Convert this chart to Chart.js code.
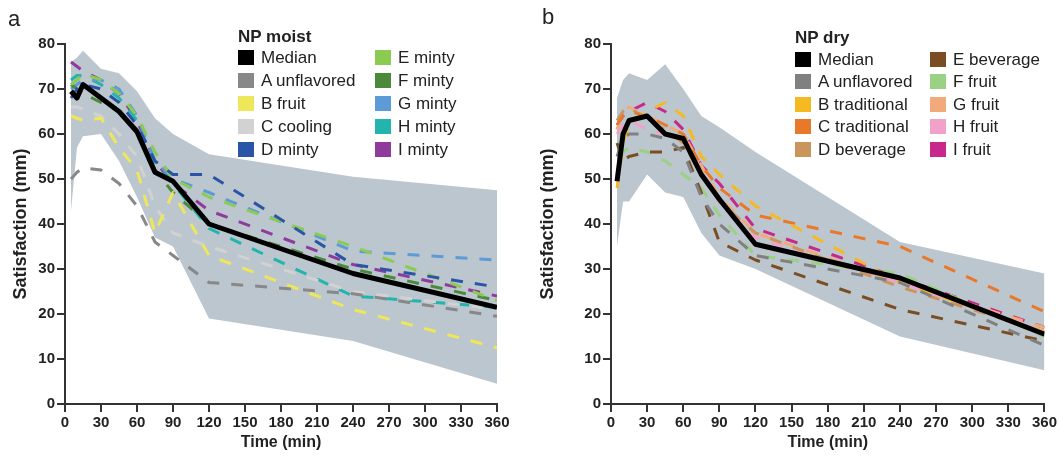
<!DOCTYPE html>
<html>
<head>
<meta charset="utf-8">
<script src="https://cdn.jsdelivr.net/npm/chart.js@4.4.1/dist/chart.umd.min.js"></script>
<style>
  body { margin: 0; background: #fff; font-family: "Liberation Sans", Arial, sans-serif; }
  #wrap { position: relative; width: 1059px; height: 456px; overflow: hidden; }
  .panel { position: absolute; top: 0; }
  .tag { position: absolute; font-size: 22px; color: #222; line-height: 1; }
  .lg { position: absolute; font-size: 17px; color: #222; line-height: 1; white-space: nowrap; }
  .lg.title { font-weight: bold; }
  .sw { position: absolute; width: 16px; height: 15px; }
</style>
</head>
<body>
<div id="wrap">
  <canvas id="moist" class="panel" width="530" height="456" style="left:0"></canvas>
  <canvas id="dry" class="panel" width="529" height="456" style="left:530px"></canvas>
  <div class="tag" style="left:8px;top:8px">a</div>
  <div class="tag" style="left:542px;top:6px">b</div>
</div>
<script>
// time points (min)
const times = [5, 10, 15, 30, 45, 60, 75, 90, 120, 240, 360];
const xTickValues = [0, 30, 60, 90, 120, 150, 180, 210, 240, 270, 300, 330, 360];
const yTickValues = [0, 10, 20, 30, 40, 50, 60, 70, 80];

// NP moist
const moistNames = ['A unflavored', 'B fruit', 'C cooling', 'D minty', 'E minty', 'F minty', 'G minty', 'H minty', 'I minty'];
const moistColors = ['#888888', '#eee75a', '#d2d2d2', '#2a55a6', '#8ccb52', '#4a8a3a', '#5c9bd6', '#22b5ad', '#8e3b9c'];
const moistMedian = [69.5, 68, 71, 68, 65, 60.5, 51.5, 49.5, 40, 29, 21.5];
const moistUpper = [76, 77, 78.5, 74.5, 73.5, 69.5, 63.5, 60, 55.5, 50.5, 47.5];
const moistLower = [43, 57, 59.5, 60, 54, 46, 37, 35, 19, 14, 4.5];
const moistA = [50, 51.5, 52.5, 52, 49, 44, 36, 33, 27, 24.5, 19.5];
const moistB = [64, 63.5, 63, 63.5, 57, 52, 38, 47, 33, 21, 12.5];
const moistC = [66, 66, 65.5, 64, 60, 55, 44, 38, 35, 25, 21];
const moistD = [68, 70, 71, 70, 67, 62, 54, 51, 51, 31, 26];
const moistE = [71, 72, 73.5, 72, 69, 64, 56, 50, 46, 35, 23];
const moistF = [71, 70, 69, 67, 65, 61, 52, 47, 40, 30, 23];
const moistG = [70, 71, 72, 72, 70, 64, 54, 50, 47, 34, 32];
const moistH = [72, 73, 73, 71, 68, 63, 53, 49, 39, 24, 21.5];
const moistI = [76, 75, 74, 72, 69, 63, 54, 49, 43, 31, 24];

// NP dry
const dryNames = ['A unflavored', 'B traditional', 'C traditional', 'D beverage', 'E beverage', 'F fruit', 'G fruit', 'H fruit', 'I fruit'];
const dryColors = ['#808080', '#f5b922', '#e8792a', '#c9955b', '#7a4e22', '#9ad183', '#f2aa7a', '#f2a2c9', '#c8288c'];
const dryMedian = [49.5, 60, 63, 64, 60, 59, 51, 45.5, 35.5, 28, 15.5];
const dryUpper = [68, 72, 73.5, 72, 75.5, 70, 64, 61.5, 56, 36, 29];
const dryLower = [35, 45, 45, 51, 47, 46, 38, 33, 30, 15, 7.5];
const dryA = [55, 59, 60, 60, 59, 56, 46, 40, 33, 27, 13];
const dryB = [48, 58, 62, 65, 67, 64, 55, 51, 44, 27, 16];
const dryC = [62, 64, 65, 64, 62, 60, 53, 48, 42, 35, 20.5];
const dryD = [63, 65, 66, 63, 61, 58, 51, 45, 38, 26, 16];
const dryE = [58, 54, 55, 56, 56, 57, 47, 36, 32, 21, 14];
const dryF = [56, 56, 57, 56, 54, 51, 48, 42, 33, 29, 15];
const dryG = [61, 65, 66, 64, 62, 60, 53, 46, 38, 27, 17];
const dryH = [60, 62, 63, 61, 60, 59, 52, 45, 37, 27, 16];
const dryI = [62, 64, 65, 67, 65, 61, 53, 49, 39, 28, 17];

const bandColor = '#bcc6ce';
const axisColor = '#333';
const textColor = '#222';

function pts(vals) {
    return vals.map((v, i) => ({ x: times[i], y: v }));
}

function makeChart(id, opts) {
    const datasets = [{
        label: 'Median', data: pts(opts.median), borderColor: '#000', borderWidth: 5, order: 0
    }];
    opts.series.forEach((s, i) => {
        datasets.push({
            label: opts.names[i], data: pts(s), borderColor: opts.colors[i],
            borderWidth: 3, borderDash: [12, 12], order: 1
        });
    });
    // shaded band between upper and lower
    datasets.push({ label: 'upper', data: pts(opts.upper), borderWidth: 0, backgroundColor: bandColor, fill: '+1', order: 2 });
    datasets.push({ label: 'lower', data: pts(opts.lower), borderWidth: 0, fill: false, order: 2 });

    return new Chart(document.getElementById(id), {
        type: 'line',
        data: { datasets: datasets },
        options: {
            responsive: false,
            animation: false,
            devicePixelRatio: 1,
            layout: { padding: { left: 0, right: opts.padRight, top: 44, bottom: 0 } },
            elements: { point: { radius: 0 }, line: { tension: 0, borderJoinStyle: 'round' } },
            plugins: { legend: { display: false }, tooltip: { enabled: false } },
            scales: {
                x: {
                    type: 'linear', min: 0, max: 360,
                    afterBuildTicks: s => { s.ticks = xTickValues.map(v => ({ value: v })); },
                    afterFit: s => { s.height = 52; },
                    ticks: { font: { size: 15, weight: 'bold' }, color: textColor, padding: 2, maxRotation: 0, autoSkip: false },
                    grid: { drawOnChartArea: false, tickLength: 8, color: axisColor, lineWidth: 2 },
                    border: { color: axisColor, width: 2 },
                    title: { display: true, text: 'Time (min)', font: { size: 16, weight: 'bold' }, color: textColor, padding: { top: 0, bottom: 4 } }
                },
                y: {
                    min: 0, max: 80,
                    afterBuildTicks: s => { s.ticks = yTickValues.map(v => ({ value: v })); },
                    afterFit: s => { s.width = opts.axisW; },
                    ticks: { font: { size: 15, weight: 'bold' }, color: textColor, padding: 2 },
                    grid: { drawOnChartArea: false, tickLength: 8, color: axisColor, lineWidth: 2 },
                    border: { color: axisColor, width: 2 },
                    title: { display: true, text: 'Satisfaction (mm)', font: { size: 18, weight: 'bold' }, color: textColor, padding: { top: opts.titlePad, bottom: 0 } }
                }
            }
        }
    });
}

function makeLegend(opts) {
    const wrap = document.getElementById('wrap');
    const t = document.createElement('div');
    t.className = 'lg title';
    t.textContent = opts.title;
    t.style.left = opts.x + 'px';
    t.style.top = (opts.y - 8) + 'px';
    wrap.appendChild(t);
    const labels = ['Median'].concat(opts.names);
    const colors = ['#000'].concat(opts.colors);
    labels.forEach((lab, i) => {
        const col = i < 5 ? 0 : 1;
        const row = i % 5;
        const sx = col === 0 ? opts.x : opts.x2;
        const cy = opts.y0 + row * opts.rowH;
        const sw = document.createElement('div');
        sw.className = 'sw';
        sw.style.background = colors[i];
        sw.style.left = sx + 'px';
        sw.style.top = (cy - 7.5) + 'px';
        wrap.appendChild(sw);
        const tx = document.createElement('div');
        tx.className = 'lg';
        tx.textContent = lab;
        tx.style.left = (sx + 23) + 'px';
        tx.style.top = (cy - 8.5) + 'px';
        wrap.appendChild(tx);
    });
}

makeChart('moist', {
    median: moistMedian, upper: moistUpper, lower: moistLower,
    series: [moistA, moistB, moistC, moistD, moistE, moistF, moistG, moistH, moistI],
    names: moistNames, colors: moistColors, axisW: 65, padRight: 33, titlePad: 10
});
makeChart('dry', {
    median: dryMedian, upper: dryUpper, lower: dryLower,
    series: [dryA, dryB, dryC, dryD, dryE, dryF, dryG, dryH, dryI],
    names: dryNames, colors: dryColors, axisW: 81, padRight: 11, titlePad: 7
});

makeLegend({ title: 'NP moist', names: moistNames, colors: moistColors, x: 238, x2: 375, y: 36, y0: 57, rowH: 23 });
makeLegend({ title: 'NP dry', names: dryNames, colors: dryColors, x: 795, x2: 930, y: 37, y0: 59, rowH: 22.5 });
</script>
</body>
</html>
